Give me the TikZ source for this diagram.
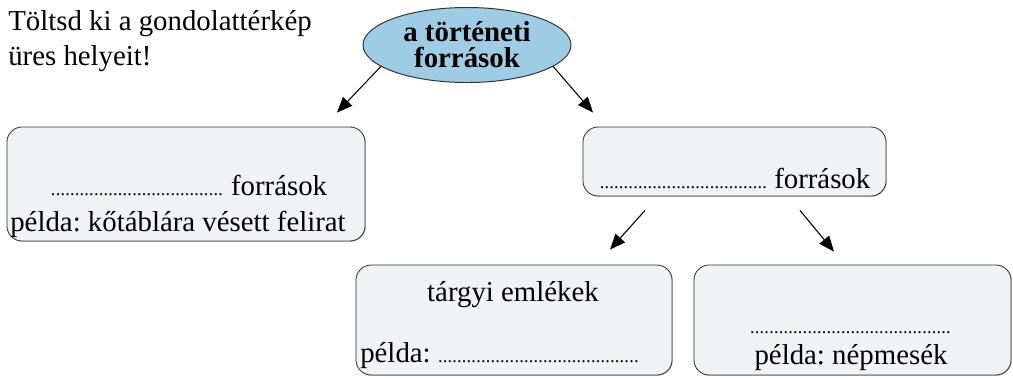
\documentclass[tikz,border=0pt]{standalone}
\usepackage{fontspec}
\setmainfont{Liberation Serif}
\usetikzlibrary{arrows.meta,shapes.geometric,shadows}
\frenchspacing
\definecolor{egkek}{RGB}{157,204,228}
\definecolor{dobozszurke}{RGB}{241,242,244}
\newcommand{\pontsor}[1]{\makebox[#1]{\leaders\hbox to 3.4pt{\hss\fontsize{13}{13}\selectfont.\hss}\hfill}}

\begin{document}
\begin{tikzpicture}[x=0.025cm,y=-0.025cm,
    font=\fontsize{20.5}{24}\selectfont,
    every node/.style={inner sep=0pt},
    doboz/.style={draw=black!80,line width=0.6pt,fill=dobozszurke,rounded corners=0.38cm,
        drop shadow={shadow xshift=0.6pt,shadow yshift=-0.6pt,fill=black!45}},
    nyil/.style={line width=0.75pt,-{Triangle[length=11pt,width=9pt]}}]
    \useasboundingbox (0,0) rectangle (1013,377);
    % feladat
    \node[anchor=base west] (C1) at (8,30) {Töltsd ki a gondolattérkép};
    \node[anchor=base west] (C2) at (8,65) {üres helyeit!};
    % dobozok
    \node[ellipse,draw=black!80,line width=0.7pt,fill=egkek,minimum width=5.2cm,minimum height=1.875cm,
        align=center,font=\bfseries\fontsize{20.5}{18.5}\selectfont] (E) at (467,45) {a történeti\\források};
    \node[doboz,minimum width=8.95cm,minimum height=2.85cm] (L) at (186,184) {};
    \node[doboz,minimum width=7.575cm,minimum height=1.725cm] (R) at (734.5,161.5) {};
    \node[doboz,minimum width=7.9cm,minimum height=2.75cm] (M) at (514,320) {};
    \node[doboz,minimum width=7.925cm,minimum height=2.75cm] (B) at (852.5,320) {};
    % szovegek
    \node[anchor=base] (L1) at (189,195) {\pontsor{123pt} források};
    \node[anchor=base] (L2) at (178,231) {példa: kőtáblára vésett felirat};
    \node[anchor=base] (R1) at (735,188) {\pontsor{119pt} források};
    \node[anchor=base] (M1) at (513,301) {tárgyi emlékek};
    \node[anchor=base west] (M2) at (360,362) {példa: \pontsor{145pt}};
    \node[anchor=base] (B1) at (852,333) {\pontsor{145pt}};
    \node[anchor=base] (B2) at (851,364) {példa: népmesék};
    % nyilak
    \draw[nyil] (E.194) -- ([shift={(151,-14)}]L.north);
    \draw[nyil] (E.346) -- ([shift={(-141.5,-14)}]R.north);
    \draw[nyil] ([shift={(-89.5,14)}]R.south) -- ([shift={(96,-15)}]M.north);
    \draw[nyil] ([shift={(65.5,14)}]R.south) -- ([shift={(-18.5,-13)}]B.north);
\end{tikzpicture}
\end{document}
